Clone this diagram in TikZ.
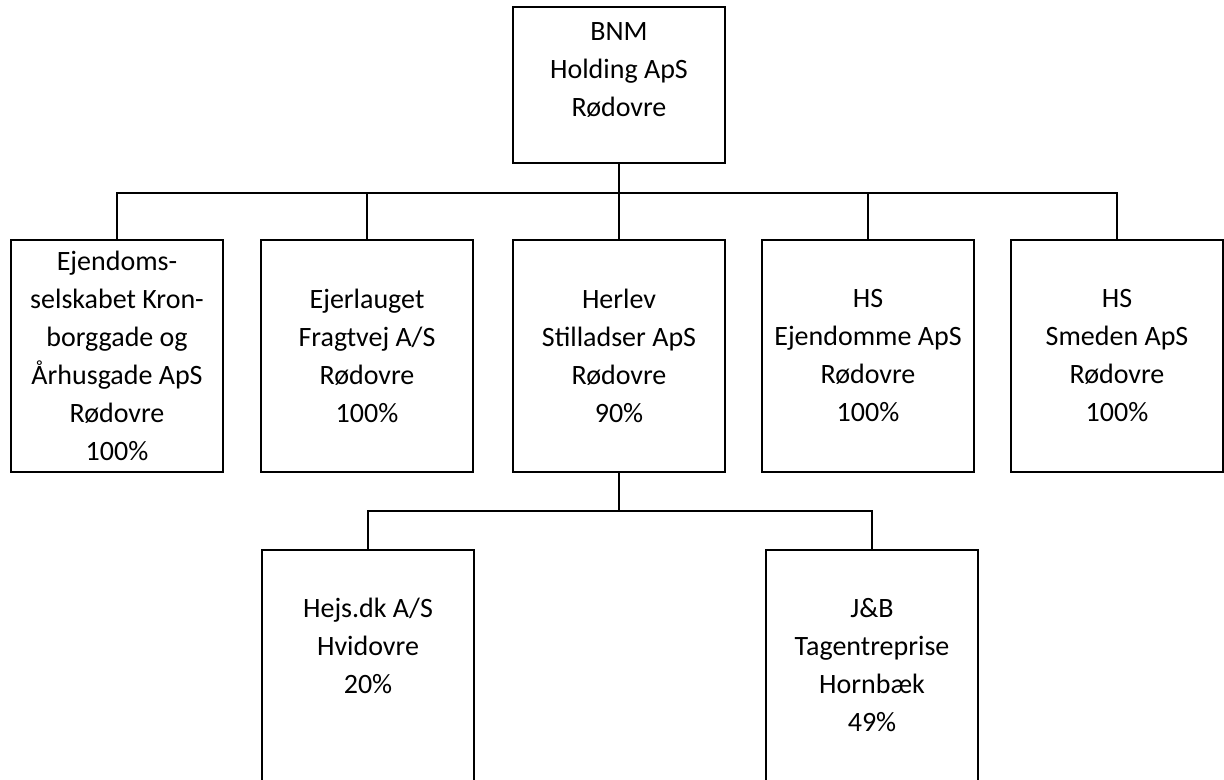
\documentclass[tikz,border=0pt]{standalone}
\usepackage{fontspec}
\setmainfont{Carlito}
\newcommand{\boxtext}[2]{\parbox[c][#1][t]{100pt}{\centering #2}}
\tikzset{firm/.style={draw, line width=1pt, align=center, minimum width=106pt, inner sep=1pt, font=\fontsize{14}{19}\selectfont}}

\begin{document}
\begin{tikzpicture}[x=0.5pt,y=-0.5pt]
	\useasboundingbox (0,0) rectangle (1224,780);
	\node [firm, inner ysep=8pt] (v0) at (619,85) {\boxtext{62pt}{BNM\\Holding ApS\\Rødovre}};
	\node [firm, minimum height=116pt] (v1) at (117,356) {Ejendoms-\\selskabet Kron-\\borggade og\\Århusgade ApS\\Rødovre\\100\%};
	\node [firm, minimum height=116pt] (v2) at (367,356) {Ejerlauget\\Fragtvej A/S\\Rødovre\\100\%};
	\node [firm, minimum height=116pt] (v3) at (619,356) {Herlev\\Stilladser ApS\\Rødovre\\90\%};
	\node [firm, minimum height=116pt] (v4) at (868,356) {HS\\Ejendomme ApS\\Rødovre\\100\%};
	\node [firm, minimum height=116pt] (v5) at (1117,356) {HS\\Smeden ApS\\Rødovre\\100\%};
	\node [firm, anchor=north, inner ysep=24pt] (v6) at (368,549) {\boxtext{102pt}{Hejs.dk A/S\\Hvidovre\\20\%}};
	\node [firm, anchor=north, inner ysep=24pt] (v7) at (872,549) {\boxtext{102pt}{J\&B\\Tagentreprise\\Hornbæk\\49\%}};
	\coordinate (bus) at (619,193);
	\coordinate (sub) at (619,511);
	\draw [thick] (v0.south) -- (bus);
	\foreach \v in {1,...,5} \draw [thick] (bus) -| (v\v.north);
	\draw [thick] (v3.south) -- (sub);
	\foreach \v in {6,7} \draw [thick] (sub) -| (v\v.north);
\end{tikzpicture}
\end{document}
